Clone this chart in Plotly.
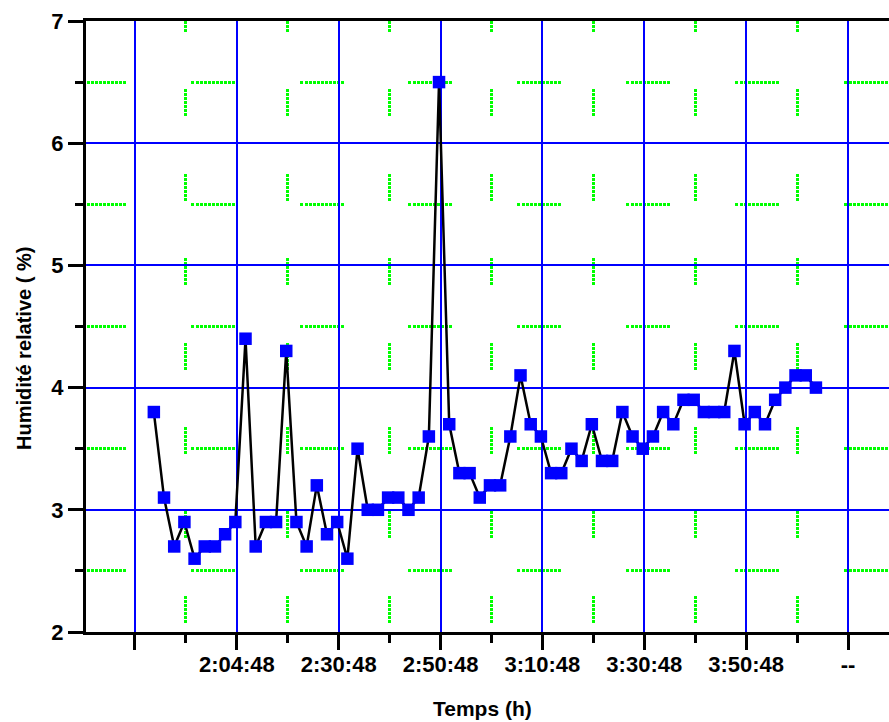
import plotly.graph_objects as go

# ---------------- data ----------------
# sample times, in minutes after the unlabeled first major tick
sample_minutes = [3.7, 5.7, 7.7, 9.7, 11.7, 13.7, 15.7, 17.7, 19.7, 21.7,
                  23.7, 25.7, 27.7, 29.7, 31.7, 33.7, 35.7, 37.7, 39.7, 41.7,
                  43.7, 45.7, 47.7, 49.7, 51.7, 53.7, 55.7, 57.7, 59.7, 61.7,
                  63.7, 65.7, 67.7, 69.7, 71.7, 73.7, 75.7, 77.7, 79.7, 81.7,
                  83.7, 85.7, 87.7, 89.7, 91.7, 93.7, 95.7, 97.7, 99.7, 101.7,
                  103.7, 105.7, 107.7, 109.7, 111.7, 113.7, 115.7, 117.7, 119.7, 121.7,
                  123.7, 125.7, 127.7, 129.7, 131.7, 133.7]
humidity = [3.8, 3.1, 2.7, 2.9, 2.6, 2.7, 2.7, 2.8, 2.9, 4.4,
            2.7, 2.9, 2.9, 4.3, 2.9, 2.7, 3.2, 2.8, 2.9, 2.6,
            3.5, 3.0, 3.0, 3.1, 3.1, 3.0, 3.1, 3.6, 6.5, 3.7,
            3.3, 3.3, 3.1, 3.2, 3.2, 3.6, 4.1, 3.7, 3.6, 3.3,
            3.3, 3.5, 3.4, 3.7, 3.4, 3.4, 3.8, 3.6, 3.5, 3.6,
            3.8, 3.7, 3.9, 3.9, 3.8, 3.8, 3.8, 4.3, 3.7, 3.8,
            3.7, 3.9, 4.0, 4.1, 4.1, 4.0]

x_tick_vals = [0, 20, 40, 60, 80, 100, 120, 140]
x_tick_text = ["", "2:04:48", "2:30:48", "2:50:48", "3:10:48", "3:30:48", "3:50:48", "--"]
x_minor_vals = [10, 30, 50, 70, 90, 110, 130]
y_tick_vals = [2, 3, 4, 5, 6, 7]
y_minor_vals = [2.5, 3.5, 4.5, 5.5, 6.5]

x_title = "Temps (h)"
y_title = "Humidité relative ( %)"

# ---------------- styling helpers ----------------
def dotted_dash(segments):
    """segments: list of (start, end) of visible dashes along the line, px.
    Each dash is rendered as small dots (3px on / 1px off)."""
    parts = []
    pos = 0.0
    for start, end in segments:
        if start > pos:
            if parts:
                parts[-1] += start - pos
            else:
                parts += [0, start - pos]
            pos = start
        length = end - start
        n = max(1, int(round((length + 1) / 4)))
        for i in range(n):
            parts.append(3)
            parts.append(1)
        pos += n * 4
    return ",".join(f"{p:.1f}px" for p in parts)

# vertical minor grid: dashes start at the top of the plot
v_period = 84.4
v_segments = [(0, 12)] + [(68.4 + k * v_period, 68.4 + k * v_period + 28) for k in range(8)]
v_segments.append((v_segments[-1][1] + 56.4, v_segments[-1][1] + 56.5))
v_dash = dotted_dash(v_segments)

# horizontal minor grid: dashes start at the left of the plot
h_segments = [(1, 39), (104.8, 104.9)]
h_dash = dotted_dash(h_segments)

BLUE = "#0000FF"
GREEN = "#00FF00"
FONT = "Liberation Sans, Arial, sans-serif"

fig = go.Figure()
fig.add_trace(go.Scatter(
    x=sample_minutes, y=humidity, mode="lines+markers",
    line=dict(color="black", width=2.5),
    marker=dict(symbol="square", size=12.5, color=BLUE, line=dict(width=0)),
    showlegend=False,
))

fig.update_layout(
    width=889, height=722,
    margin=dict(l=86, r=0, t=21, b=90),
    plot_bgcolor="white", paper_bgcolor="white",
    font=dict(family=FONT, size=22, color="black"),
    showlegend=False,
)

fig.update_xaxes(
    range=[-9.62, 148.05],
    tickmode="array", tickvals=x_tick_vals, ticktext=x_tick_text,
    ticks="outside", ticklen=15, tickwidth=3, tickcolor="black",
    tickfont=dict(family=FONT, size=22, weight="bold", color="black"),
    ticklabelstandoff=-4,
    showline=True, linewidth=3, linecolor="black", mirror=True,
    showgrid=True, gridcolor=BLUE, gridwidth=2, zeroline=False,
    minor=dict(tickmode="array", tickvals=x_minor_vals, ticks="outside",
               ticklen=8, tickwidth=3, tickcolor="black",
               showgrid=True, gridcolor=GREEN, gridwidth=2.5, griddash=v_dash),
)
fig.update_yaxes(
    range=[2, 7],
    tickmode="array", tickvals=y_tick_vals,
    ticks="outside", ticklen=15, tickwidth=3, tickcolor="black",
    tickfont=dict(family=FONT, size=22, weight="bold", color="black"),
    ticklabelstandoff=0,
    showline=True, linewidth=3, linecolor="black",
    showgrid=True, gridcolor=BLUE, gridwidth=2, zeroline=False,
    minor=dict(tickmode="array", tickvals=y_minor_vals, ticks="outside",
               ticklen=8, tickwidth=3, tickcolor="black",
               showgrid=True, gridcolor=GREEN, gridwidth=2.5, griddash=h_dash),
)

fig.add_annotation(text=y_title, xref="paper", yref="paper",
                   x=(24 - 86) / 803, y=(632 - 349) / 611,
                   xanchor="center", yanchor="middle", textangle=-90, showarrow=False,
                   font=dict(family=FONT, size=20, weight="bold", color="black"))
fig.add_annotation(text=x_title, xref="paper", yref="paper",
                   x=(482.5 - 86) / 803, y=-(708 - 632) / 611,
                   xanchor="center", yanchor="middle", showarrow=False,
                   font=dict(family=FONT, size=21, weight="bold", color="black"))

fig.write_html("out.html")
